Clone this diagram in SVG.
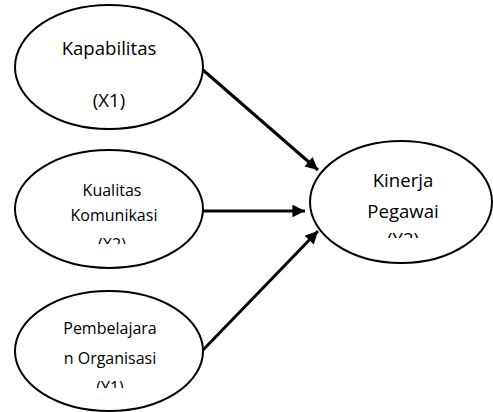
<svg xmlns="http://www.w3.org/2000/svg" width="493" height="412" viewBox="0 0 493 412">
<style>
.node ellipse{fill:#fff;stroke:#000;stroke-width:2}
.lbl{font-family:"Open Sans","Noto Sans","Liberation Sans",sans-serif;fill:#000;text-anchor:middle}
.big{font-size:18.6px}
.small{font-size:16px}
.conn line{stroke:#000;stroke-width:3;marker-end:url(#ah)}
</style>
<defs>
<marker id="ah" viewBox="0 0 10 10" refX="10" refY="5" markerWidth="4.6" markerHeight="4.2" orient="auto" markerUnits="strokeWidth">
<path d="M0,0 L10,5 L0,10 z" fill="#000"/>
</marker>
<clipPath id="c2"><rect x="0" y="0" width="493" height="244"/></clipPath>
<clipPath id="c3"><rect x="0" y="0" width="493" height="388"/></clipPath>
<clipPath id="c4"><rect x="0" y="0" width="493" height="238"/></clipPath>
</defs>
<g id="n1" class="node">
<ellipse cx="109" cy="67" rx="94" ry="62"/>
<text class="lbl big" x="109" y="55">Kapabilitas</text>
<text class="lbl big" x="109" y="107">(X1)</text>
</g>
<g id="n2" class="node">
<ellipse cx="109" cy="209" rx="94" ry="59"/>
<text class="lbl small" x="112" y="196">Kualitas</text>
<text class="lbl small" x="114" y="221">Komunikasi</text>
<text class="lbl small" x="112" y="250" clip-path="url(#c2)">(X2)</text>
</g>
<g id="n3" class="node">
<ellipse cx="109" cy="351" rx="94" ry="60"/>
<text class="lbl small" x="110" y="334">Pembelajara</text>
<text class="lbl small" x="110" y="364">n Organisasi</text>
<text class="lbl small" x="110" y="393" clip-path="url(#c3)">(Y1)</text>
</g>
<g id="n4" class="node">
<ellipse cx="401" cy="202" rx="91" ry="61"/>
<text class="lbl big" x="403" y="187">Kinerja</text>
<text class="lbl big" x="403" y="218">Pegawai</text>
<text class="lbl big" x="403" y="246" clip-path="url(#c4)">(Y2)</text>
</g>
<g id="connectors" class="conn">
<line x1="203" y1="70" x2="318" y2="170"/>
<line x1="203" y1="211" x2="305" y2="211"/>
<line x1="203" y1="350" x2="318" y2="231"/>
</g>
</svg>
